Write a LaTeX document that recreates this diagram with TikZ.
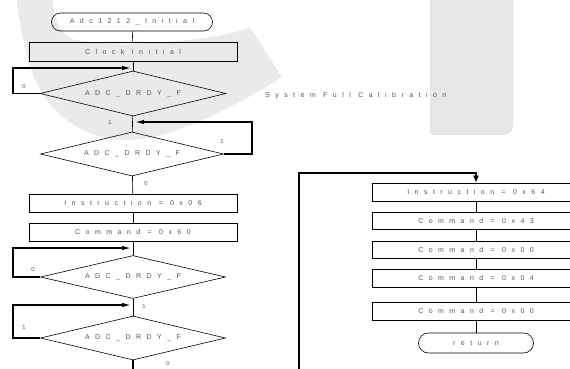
\documentclass[tikz,border=0pt]{standalone}
\usepackage{fontspec}
\setmainfont{Liberation Sans}
\newfontfamily\flowfont[LetterSpace=78]{Liberation Sans}
\usetikzlibrary{shapes.geometric,shapes.misc,arrows.meta}
\definecolor{wmark}{HTML}{EAEAEA}
\definecolor{wrect}{HTML}{E6E6E6}
\definecolor{txtgray}{HTML}{555555}
\tikzset{
  txt/.style={font=\flowfont\fontsize{7}{8}\selectfont, text=txtgray},
  lbl/.style={font=\fontsize{5.8}{6}\selectfont, text=txtgray, inner sep=0pt},
  procbox/.style={draw, rectangle, minimum width=208pt, minimum height=18pt, inner sep=0pt, line width=0.6pt, txt},
  termbox/.style={draw, rounded rectangle, inner sep=0pt, line width=0.6pt, txt},
  decis/.style={draw, diamond, aspect=4, inner sep=0pt, line width=0.6pt, txt},
  flow/.style={line width=0.6pt},
  loopline/.style={line width=1.3pt, -{Latex[length=9pt,width=4.5pt]}, shorten >=2pt},
}
\begin{document}
\begin{tikzpicture}[x=1pt,y=-1pt]
\useasboundingbox (0,0) rectangle (570,368);
\clip (0,0) rectangle (570,368);
% watermark
\fill[wmark] (16,-5) .. controls (20,30) and (28,75) .. (47,100)
  .. controls (65,125) and (95,140) .. (125,140)
  .. controls (170,140) and (230,110) .. (282,77)
  -- (250,27)
  .. controls (215,42) and (120,48) .. (75,40)
  .. controls (58,35) and (53,15) .. (52,-5) -- cycle;
\fill[wrect, rounded corners=3pt] (430,-10) -- (430,135) -- (505,135)
  [rounded corners=9pt] -- (513,135) [rounded corners=3pt] -- (513,-10) -- cycle;
% left column
\node[termbox, minimum width=161pt, minimum height=18pt] (start) at (132,22) {Adc1212\_Initial};
\node[procbox, minimum height=19pt] (clock) at (133,51.5) {Clock Initial};
\node[decis, minimum width=186pt, minimum height=45pt] (d1) at (133,93.5) {ADC\_DRDY\_F};
\node[decis, minimum width=183pt, minimum height=44pt] (d2) at (132,154) {ADC\_DRDY\_F};
\node[procbox] (i06) at (133,203) {Instruction = 0x06};
\node[procbox] (c60) at (133,232) {Command = 0x60};
\node[decis, minimum width=185pt, minimum height=43pt] (d3) at (133,277) {ADC\_DRDY\_F};
\node[decis, minimum width=185pt, minimum height=44pt] (d4) at (133,338) {ADC\_DRDY\_F};
\coordinate (m1) at (133,68);
\coordinate (m2) at (133,122);
\coordinate (m3) at (133,248);
\coordinate (m4) at (133,305);
\coordinate (bl) at (133,375);
\draw[flow] (start) -- (clock);
\draw[flow] (clock) -- (d1);
\draw[flow] (d1) -- (d2);
\draw[flow] (d2) -- (i06);
\draw[flow] (i06) -- (c60);
\draw[flow] (c60) -- (d3);
\draw[flow] (d3) -- (d4);
\draw[line width=1.3pt] (d4.south) -- (bl);
\draw[loopline] (d1.west) -- (13,93.5) -- (13,68) -- (m1);
\draw[loopline] (d2.east) -- (252,154) -- (252,122) -- (m2);
\draw[loopline] (d3.west) -- (13,277) -- (13,248) -- (m3);
\draw[loopline] (d4.west) -- (13,338) -- (13,305) -- (m4);
\node[lbl] (l1) at (24,86) {0};
\node[lbl] (l2) at (110,122) {1};
\node[lbl] (l3) at (222,141) {1};
\node[lbl] (l4) at (146,183) {0};
\node[lbl] (l5) at (33,269) {0};
\node[lbl] (l6) at (144,306) {1};
\node[lbl] (l7) at (24,327) {1};
\node[lbl] (l8) at (168,363) {0};
% title
\node[txt, anchor=west, inner sep=0pt] (title) at (265,96) {System Full Calibration};
% right column
\node[procbox] (i64) at (476,192) {Instruction = 0x64};
\node[procbox, minimum height=17pt] (c43) at (476,220.5) {Command = 0x43};
\node[procbox, minimum height=17pt] (c00a) at (476,249.5) {Command = 0x00};
\node[procbox] (c04) at (476,278) {Command = 0x04};
\node[procbox] (c00b) at (476,311) {Command = 0x00};
\node[termbox, minimum width=115pt, minimum height=20pt] (ret) at (476,343) {return};
\coordinate (br) at (299,375);
\draw[flow] (i64) -- (c43);
\draw[flow] (c43) -- (c00a);
\draw[flow] (c00a) -- (c04);
\draw[flow] (c04) -- (c00b);
\draw[flow] (c00b) -- (ret);
\draw[line width=1.3pt, -{Latex[length=7pt,width=6pt]}] (br) -- (299,173) -- (476,173) -- (i64.north);
\end{tikzpicture}
\end{document}
